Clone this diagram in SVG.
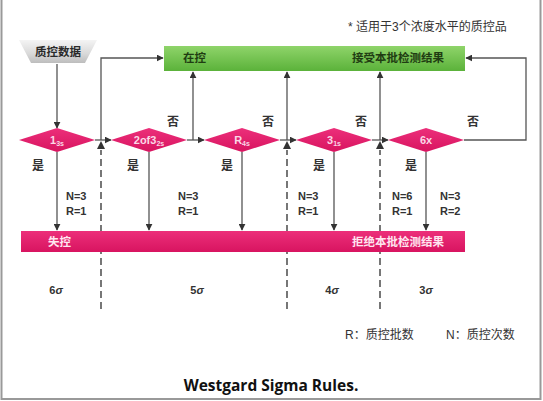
<svg xmlns="http://www.w3.org/2000/svg" width="543" height="401" viewBox="0 0 543 401">
<style>
.cjk{font-family:"Liberation Sans","Noto Sans CJK SC",sans-serif;}
.b{font-weight:bold;}
.lbl{font-family:"Liberation Sans","Noto Sans CJK SC",sans-serif;font-size:12px;font-weight:bold;fill:#333;}
.nr{font-family:"Liberation Sans",sans-serif;font-size:11px;font-weight:bold;fill:#333;}
.dtx{font-family:"Liberation Sans",sans-serif;font-size:11px;font-weight:bold;fill:#fbd7e6;text-anchor:middle;}
.sub{font-size:7px;}
.ln{fill:none;stroke:#555;stroke-width:1.3;}
.dash{fill:none;stroke:#555;stroke-width:1.6;stroke-dasharray:7 4;}
.sig{font-family:"Liberation Sans",sans-serif;font-size:11px;font-weight:bold;fill:#333;text-anchor:middle;}
.it{font-style:italic;}
</style>
<defs>
<marker id="ah" viewBox="0 0 10 10" refX="9" refY="5" markerWidth="7" markerHeight="7" markerUnits="userSpaceOnUse" orient="auto">
<path d="M0,0 L10,5 L0,10 z" fill="#333"/>
</marker>
<linearGradient id="pk" x1="0" y1="0" x2="0" y2="1">
<stop offset="0" stop-color="#ec2f7a"/>
<stop offset="1" stop-color="#d81460"/>
</linearGradient>
<linearGradient id="gr" x1="0" y1="0" x2="0" y2="1">
<stop offset="0" stop-color="#8fd46a"/>
<stop offset="1" stop-color="#5bb23a"/>
</linearGradient>
<linearGradient id="tz" x1="0" y1="0" x2="0" y2="1">
<stop offset="0" stop-color="#f4f4f4"/>
<stop offset="0.6" stop-color="#d9d9d9"/>
<stop offset="1" stop-color="#bdbdbd"/>
</linearGradient>
</defs>
<rect x="0" y="0" width="543" height="401" fill="#ffffff"/>
<path d="M1.5,0 V399 H540.5 V0" fill="none" stroke="#999" stroke-width="2"/>

<text x="348" y="31" class="cjk" font-size="12" fill="#333">* 适用于3个浓度水平的质控品</text>

<g id="connectors">
<line class="ln" x1="57" y1="64" x2="57" y2="128" marker-end="url(#ah)"/>
<line class="ln" x1="95" y1="140" x2="111" y2="140" marker-end="url(#ah)"/>
<line class="ln" x1="187" y1="140" x2="204" y2="140" marker-end="url(#ah)"/>
<line class="ln" x1="280" y1="140" x2="296" y2="140" marker-end="url(#ah)"/>
<line class="ln" x1="372" y1="140" x2="388" y2="140" marker-end="url(#ah)"/>
<polyline class="ln" points="101,140 101,58 163,58" marker-end="url(#ah)"/>
<polyline class="ln" points="464,140 526,140 526,58 466,58" marker-end="url(#ah)"/>
<line class="ln" x1="193" y1="140" x2="193" y2="72" marker-end="url(#ah)"/>
<line class="ln" x1="287" y1="140" x2="287" y2="72" marker-end="url(#ah)"/>
<line class="ln" x1="380" y1="140" x2="380" y2="72" marker-end="url(#ah)"/>
<line class="ln" x1="57" y1="152" x2="57" y2="230" marker-end="url(#ah)"/>
<line class="ln" x1="149" y1="152" x2="149" y2="230" marker-end="url(#ah)"/>
<line class="ln" x1="242" y1="152" x2="242" y2="230" marker-end="url(#ah)"/>
<line class="ln" x1="334" y1="152" x2="334" y2="230" marker-end="url(#ah)"/>
<line class="ln" x1="426" y1="152" x2="426" y2="230" marker-end="url(#ah)"/>
<line class="dash" x1="101" y1="309" x2="101" y2="150"/>
<line class="dash" x1="287" y1="309" x2="287" y2="150"/>
<line class="dash" x1="380" y1="309" x2="380" y2="150"/>
<path d="M97,149 L101,141 L105,149 z M283,149 L287,141 L291,149 z M376,149 L380,141 L384,149 z" fill="#333"/>
</g>

<g id="qc-data">
<path d="M19,40 H97 L85,63 H31 z" fill="url(#tz)"/>
<text x="58" y="56" class="cjk b" font-size="11.5" fill="#2a2a2a" text-anchor="middle">质控数据</text>
</g>

<g id="in-control">
<rect x="164" y="46" width="301" height="25" fill="url(#gr)"/>
<text x="183" y="62" class="cjk b" font-size="11.5" fill="#1f3d12">在控</text>
<text x="352" y="62" class="cjk b" font-size="11.5" fill="#1f3d12">接受本批检测结果</text>
</g>

<g id="d1">
<path d="M19,140 L57,128 L95,140 L57,152 z" fill="url(#pk)"/>
<text x="57" y="144" class="dtx">1<tspan class="sub" dy="2">3s</tspan></text>
</g>
<g id="d2">
<path d="M111,140 L149,128 L187,140 L149,152 z" fill="url(#pk)"/>
<text x="149" y="144" class="dtx">2of3<tspan class="sub" dy="2">2s</tspan></text>
</g>
<g id="d3">
<path d="M204,140 L242,128 L280,140 L242,152 z" fill="url(#pk)"/>
<text x="242" y="144" class="dtx">R<tspan class="sub" dy="2">4s</tspan></text>
</g>
<g id="d4">
<path d="M296,140 L334,128 L372,140 L334,152 z" fill="url(#pk)"/>
<text x="334" y="144" class="dtx">3<tspan class="sub" dy="2">1s</tspan></text>
</g>
<g id="d5">
<path d="M388,140 L426,128 L464,140 L426,152 z" fill="url(#pk)"/>
<text x="426" y="144" class="dtx">6x</text>
</g>

<g id="out-of-control">
<rect x="21" y="231" width="444" height="21" fill="url(#pk)"/>
<text x="48" y="246" class="cjk b" font-size="11.5" fill="#ffe6f0">失控</text>
<text x="352" y="246" class="cjk b" font-size="11.5" fill="#ffe6f0">拒绝本批检测结果</text>
</g>

<g id="labels">
<text x="173" y="126" class="lbl" text-anchor="middle">否</text>
<text x="268" y="126" class="lbl" text-anchor="middle">否</text>
<text x="361" y="126" class="lbl" text-anchor="middle">否</text>
<text x="473" y="126" class="lbl" text-anchor="middle">否</text>
<text x="38" y="170" class="lbl" text-anchor="middle">是</text>
<text x="133" y="170" class="lbl" text-anchor="middle">是</text>
<text x="227" y="170" class="lbl" text-anchor="middle">是</text>
<text x="319" y="170" class="lbl" text-anchor="middle">是</text>
<text x="411" y="170" class="lbl" text-anchor="middle">是</text>
<text x="66" y="200" class="nr">N=3</text><text x="66" y="215" class="nr">R=1</text>
<text x="178" y="200" class="nr">N=3</text><text x="178" y="215" class="nr">R=1</text>
<text x="298" y="200" class="nr">N=3</text><text x="298" y="215" class="nr">R=1</text>
<text x="392" y="200" class="nr">N=6</text><text x="392" y="215" class="nr">R=1</text>
<text x="440" y="200" class="nr">N=3</text><text x="440" y="215" class="nr">R=2</text>
<text x="56" y="294" class="sig">6<tspan class="it">σ</tspan></text>
<text x="197" y="294" class="sig">5<tspan class="it">σ</tspan></text>
<text x="332" y="294" class="sig">4<tspan class="it">σ</tspan></text>
<text x="426" y="294" class="sig">3<tspan class="it">σ</tspan></text>
<text x="345" y="339" class="cjk" font-size="12" fill="#333">R：质控批数</text>
<text x="446" y="339" class="cjk" font-size="12" fill="#333">N：质控次数</text>
<text x="271" y="391" font-family="'Open Sans','Liberation Sans',sans-serif" font-size="15.5" font-weight="bold" fill="#111" text-anchor="middle">Westgard Sigma Rules.</text>
</g>
</svg>
